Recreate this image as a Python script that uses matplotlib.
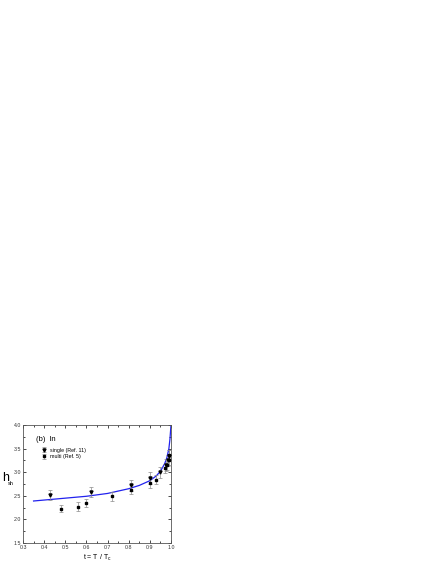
import matplotlib
matplotlib.use("Agg")
import matplotlib.pyplot as plt
from matplotlib.ticker import MultipleLocator

plt.rcParams['font.family'] = ['Liberation Sans', 'DejaVu Sans']

# data
single_t = [0.43, 0.62, 0.81, 0.90, 0.95, 0.975, 0.985, 0.99]
single_h = [2.52, 2.58, 2.72, 2.88, 3.00, 3.15, 3.25, 3.35]
single_err = [0.10, 0.10, 0.12, 0.12, 0.12, 0.12, 0.12, 0.12]

multi_t = [0.48, 0.56, 0.60, 0.72, 0.81, 0.90, 0.93, 0.97, 0.98, 0.99, 0.99]
multi_h = [2.23, 2.27, 2.35, 2.49, 2.63, 2.77, 2.84, 3.08, 3.15, 3.25, 3.36]
multi_err = [0.08, 0.09, 0.09, 0.09, 0.10, 0.10, 0.10, 0.10, 0.10, 0.10, 0.10]

curve_t = [0.35, 0.40, 0.50, 0.60, 0.70, 0.80, 0.85, 0.90, 0.93, 0.95, 0.97, 0.98, 0.99, 0.995, 1.0]
curve_h = [2.39, 2.41, 2.45, 2.49, 2.55, 2.65, 2.72, 2.82, 2.92, 3.02, 3.18, 3.30, 3.50, 3.70, 4.0]

fig = plt.figure(figsize=(4.36, 5.64), dpi=100)
ax = fig.add_axes([23/436, 21/564, 148/436, 118/564])

ax.plot(curve_t, curve_h, color='#2222ee', lw=0.9, zorder=2)
ax.errorbar(single_t, single_h, yerr=single_err, fmt='v', color='black', ms=2.2,
            ecolor='#8a8a8a', elinewidth=0.5, capsize=1.2, capthick=0.5,
            label='single (Ref. 11)', zorder=3)
ax.errorbar(multi_t, multi_h, yerr=multi_err, fmt='s', color='black', ms=1.8,
            ecolor='#8a8a8a', elinewidth=0.5, capsize=1.2, capthick=0.5,
            label='multi (Ref. 5)', zorder=3)

ax.set_xlim(0.3, 1.0)
ax.set_ylim(1.5, 4.0)
ax.xaxis.set_major_locator(MultipleLocator(0.1))
ax.xaxis.set_minor_locator(MultipleLocator(0.05))
ax.yaxis.set_major_locator(MultipleLocator(0.5))
ax.yaxis.set_minor_locator(MultipleLocator(0.25))
ax.tick_params(which='both', direction='in', top=True, right=True, labelsize=3.8,
               width=0.5, pad=1.5, labelcolor='#333333')
ax.tick_params(which='major', length=2)
ax.tick_params(which='minor', length=1.2)
for s in ax.spines.values():
    s.set_linewidth(0.6)
    s.set_color('#555555')

ax.set_xlabel('t = T / T$_{\\mathregular{c}}$', fontsize=5, labelpad=2)
ax.text(-0.12, 0.55, 'h', transform=ax.transAxes, fontsize=9, ha='center', va='center')
ax.text(-0.085, 0.505, 'sh', transform=ax.transAxes, fontsize=4, ha='center', va='center')

ax.text(0.36, 3.70, '(b)  ln', fontsize=5.5, va='center')
ax.legend(loc='upper left', bbox_to_anchor=(0.10, 0.84), frameon=False, fontsize=3.8,
          handlelength=1.0, handletextpad=0.6, borderpad=0.2, labelspacing=0.3)

fig.savefig('out.png', dpi=100)
